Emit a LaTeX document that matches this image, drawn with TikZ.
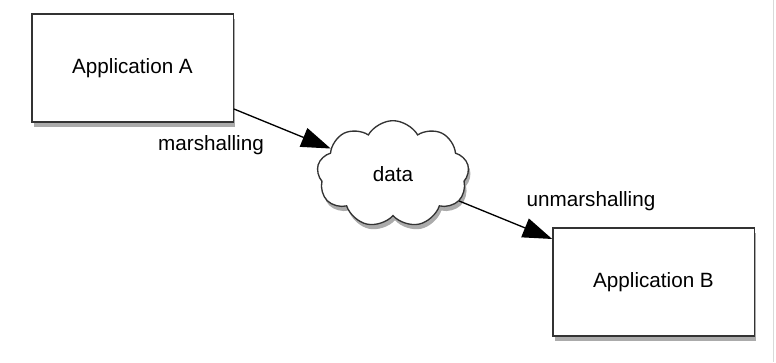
\documentclass[tikz,border=0pt]{standalone}
\usepackage{fontspec}
\setmainfont{Liberation Sans}
\usetikzlibrary{shapes.symbols,shadows,arrows.meta}

\begin{document}
\begin{tikzpicture}[x=0.75pt,y=-0.75pt,
    font=\fontsize{15.5}{18}\selectfont,
    app/.style={draw=black!80, line width=1pt, fill=white,
        minimum width=151pt, minimum height=81pt,
        drop shadow={shadow xshift=1.5pt, shadow yshift=-3.5pt, fill=black!60, opacity=0.55}},
    blob/.style={cloud, cloud puffs=9, cloud puff arc=120, aspect=1.5,
        draw=black!80, line width=1pt, fill=white,
        minimum width=114pt, minimum height=80pt,
        drop shadow={shadow xshift=1.5pt, shadow yshift=-3.5pt, fill=black!60, opacity=0.55}},
    flow/.style={line width=1pt, -{Triangle[length=22pt,width=15pt]}}]
    \useasboundingbox (0,0) rectangle (776,362);
    % faint frame edge on the right
    \draw[gray!30] (773,0) -- (773,362);

    % Applications and the data cloud
    \node[app] (appA) at (132.5,68) {Application A};
    \node[blob] (data) at (393,174) {data};
    \node[app] (appB) at (653.5,282) {Application B};

    % Flow of the data
    \draw[flow] (appA.-22.7) -- (data);
    \draw[flow] (data) -- (appB.157.5);

    % Labels
    \node (marsh) at (211,145) {marshalling};
    \node (unmarsh) at (591,201) {unmarshalling};
\end{tikzpicture}
\end{document}
